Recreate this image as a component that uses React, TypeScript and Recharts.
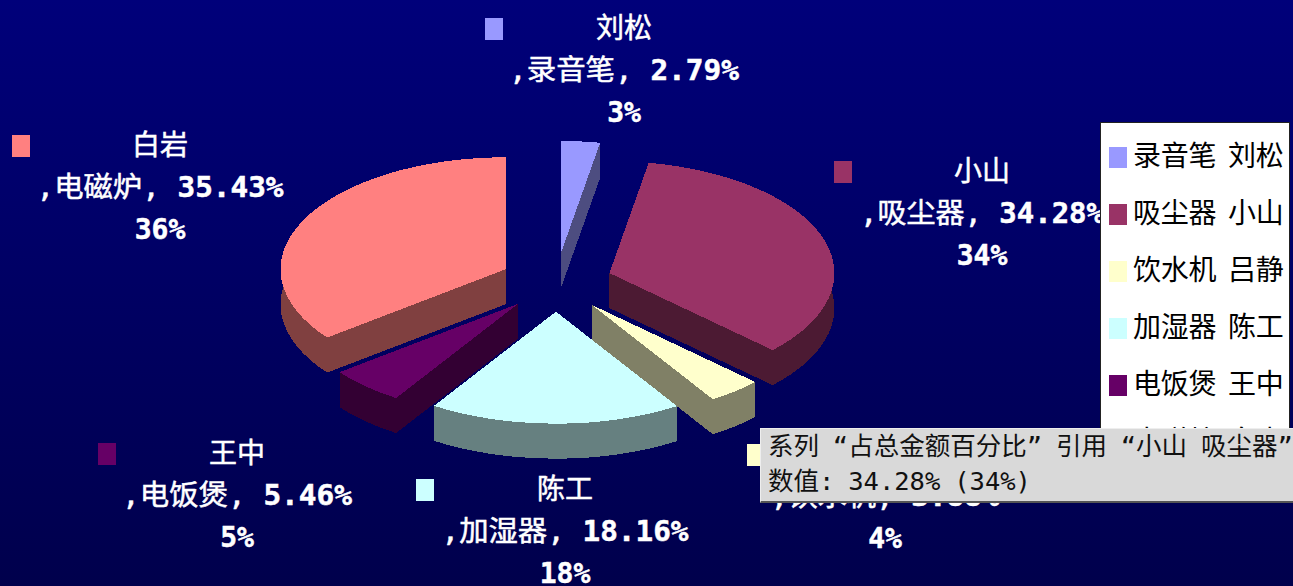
import { PieChart, Pie, Legend, Tooltip } from "recharts";

const PEOPLE = ["刘松", "小山", "吕静", "陈工", "王中", "白岩"];
const PRODUCTS = ["录音笔", "吸尘器", "饮水机", "加湿器", "电饭煲", "电磁炉"];
const SHARES = [2.79, 34.28, 3.88, 18.16, 5.46, 35.43];
const ROUNDED = [3, 34, 4, 18, 5, 36];
const COLORS = ["#9999ff", "#993366", "#ffffcc", "#ccffff", "#660066", "#ff8080"];
const WALLS = ["#4d4d80", "#4c1a33", "#808066", "#668080", "#330033", "#804040"];

const rows = PEOPLE.map((person, i) => ({
  name: `${PRODUCTS[i]} ${person}`,
  person,
  product: PRODUCTS[i],
  value: SHARES[i],
  rounded: ROUNDED[i],
  fill: COLORS[i],
  wall: WALLS[i],
}));

// label placement, one per slice: centre x, first line y, swatch offset, width of line 2
const LABEL_BOX = [
  { x: 624, y: 28, swatch: -139, width: 230 },
  { x: 982, y: 171, swatch: -148, width: 244 },
  { x: 885, y: 454, swatch: -138, width: 229 },
  { x: 565, y: 489, swatch: -149, width: 247 },
  { x: 237, y: 453, swatch: -139, width: 230 },
  { x: 160, y: 145, swatch: -148, width: 247 },
];

const CX = 556;
const CY = 282.3;
const RX = 225;
const SQUASH = 0.498;
const EXPLODE_X = 0.25;
const EXPLODE_Y = 0.262;
const DEPTH = 35;
const FONT = '"DejaVu Sans Mono", "Noto Sans CJK SC", monospace';

// elliptical sector with a side wall, the angles come from the Pie
// eslint-disable-next-line @typescript-eslint/no-explicit-any
function Slice3D(props: any) {
  const { cx, cy, outerRadius, startAngle, endAngle, fill, payload } = props;
  const rad = Math.PI / 180;
  const rx = outerRadius;
  const ry = outerRadius * SQUASH;
  const mid = ((startAngle + endAngle) / 2) * rad;
  const ax = cx + EXPLODE_X * rx * Math.cos(mid);
  const ay = cy - EXPLODE_Y * ry * Math.sin(mid);
  const x0 = ax + rx * Math.cos(startAngle * rad);
  const y0 = ay - ry * Math.sin(startAngle * rad);
  const x1 = ax + rx * Math.cos(endAngle * rad);
  const y1 = ay - ry * Math.sin(endAngle * rad);
  const large = startAngle - endAngle > 180 ? 1 : 0;
  const d = DEPTH;
  const wall = payload?.wall ?? props.wall;
  return (
    <g shapeRendering="crispEdges">
      <path fill={wall} d={`M${ax},${ay + d}L${x0},${y0 + d}A${rx},${ry} 0 ${large} 1 ${x1},${y1 + d}Z`} />
      <path fill={wall} d={`M${ax},${ay}L${x0},${y0}L${x0},${y0 + d}L${ax},${ay + d}Z`} />
      <path fill={wall} d={`M${ax},${ay}L${x1},${y1}L${x1},${y1 + d}L${ax},${ay + d}Z`} />
      <path
        fill={wall}
        d={`M${x0},${y0}A${rx},${ry} 0 ${large} 1 ${x1},${y1}L${x1},${y1 + d}A${rx},${ry} 0 ${large} 0 ${x0},${y0 + d}Z`}
      />
      <path fill={fill} d={`M${ax},${ay}L${x0},${y0}A${rx},${ry} 0 ${large} 1 ${x1},${y1}Z`} />
    </g>
  );
}

// eslint-disable-next-line @typescript-eslint/no-explicit-any
function SliceLabel(props: any) {
  const { index } = props;
  const row = rows[index];
  const box = LABEL_BOX[index];
  const common = {
    fill: "#fff",
    stroke: "#fff",
    strokeWidth: 0.5,
    fontFamily: FONT,
    fontSize: 28,
    textAnchor: "middle" as const,
    dominantBaseline: "central" as const,
  };
  return (
    <g>
      <rect x={box.x + box.swatch} y={box.y - 10} width={18} height={22} fill={row.fill} />
      <text x={box.x} y={box.y} {...common}>
        {row.person}
      </text>
      <text x={box.x} y={box.y + 42} textLength={box.width} lengthAdjust="spacingAndGlyphs" {...common}>
        {`,${row.product}, `}
        <tspan fontWeight="bold">{`${row.value.toFixed(2)}%`}</tspan>
      </text>
      <text x={box.x} y={box.y + 84} fontWeight="bold" {...common}>
        {`${row.rounded}%`}
      </text>
    </g>
  );
}

// eslint-disable-next-line @typescript-eslint/no-explicit-any
function LegendBox({ payload }: any) {
  return (
    <div
      style={{
        width: 190,
        height: 348,
        boxSizing: "border-box",
        background: "#fff",
        border: "1px solid #222",
        fontFamily: FONT,
        fontSize: 28,
        color: "#000",
        overflow: "hidden",
      }}
    >
      {/* eslint-disable-next-line @typescript-eslint/no-explicit-any */}
      {(payload ?? []).map((item: any, i: number) => (
        <div key={i} style={{ position: "absolute", left: 9, top: 24 + i * 57, display: "flex", alignItems: "center", height: 22 }}>
          <span style={{ width: 18, height: 21, background: item.color, display: "inline-block", marginRight: 6 }} />
          <span style={{ whiteSpace: "nowrap", lineHeight: "22px", letterSpacing: -0.2, wordSpacing: -5 }}>{item.value}</span>
        </div>
      ))}
    </div>
  );
}

// eslint-disable-next-line @typescript-eslint/no-explicit-any
function HoverNote({ payload }: any) {
  const item = payload?.[0];
  if (!item) return null;
  const row = item.payload;
  return (
    <div
      style={{
        width: 533,
        height: 75,
        boxSizing: "border-box",
        background: "#d9d9d9",
        borderTop: "1px solid #eee",
        borderBottom: "2px solid #555",
        borderLeft: "1px solid #eee",
        fontFamily: FONT,
        fontSize: 25.5,
        color: "#111",
        paddingLeft: 7,
        overflow: "hidden",
        whiteSpace: "nowrap",
        lineHeight: "35px",
        wordSpacing: -1.5,
      }}
    >
      <div>{`系列 “占总金额百分比” 引用 “${row.person} ${row.product}”`}</div>
      <div>{`数值: ${row.value.toFixed(2)}% (${row.rounded}%)`}</div>
    </div>
  );
}

export default function App() {
  return (
    <div
      style={{
        position: "fixed",
        left: 0,
        top: 0,
        width: 1293,
        height: 586,
        overflow: "hidden",
        background: "linear-gradient(180deg, #00007a 0%, #00004c 100%)",
      }}
    >
      <PieChart width={1293} height={586} margin={{ top: 0, right: 0, bottom: 0, left: 0 }}>
        <Pie
          data={rows}
          dataKey="value"
          nameKey="name"
          cx={CX}
          cy={CY}
          outerRadius={RX}
          startAngle={90}
          endAngle={-270}
          stroke="none"
          shape={Slice3D}
          label={SliceLabel}
          labelLine={false}
          isAnimationActive={false}
        />
        <Legend
          layout="vertical"
          align="right"
          verticalAlign="middle"
          itemSorter={null}
          content={<LegendBox />}
          wrapperStyle={{ position: "absolute", left: 1100, top: 122, right: "auto", bottom: "auto", width: 190, height: 348 }}
        />
        <Tooltip
          active
          defaultIndex={1}
          position={{ x: 760, y: 428 }}
          content={<HoverNote />}
          isAnimationActive={false}
          allowEscapeViewBox={{ x: true, y: true }}
          wrapperStyle={{ zIndex: 10 }}
        />
      </PieChart>
    </div>
  );
}
